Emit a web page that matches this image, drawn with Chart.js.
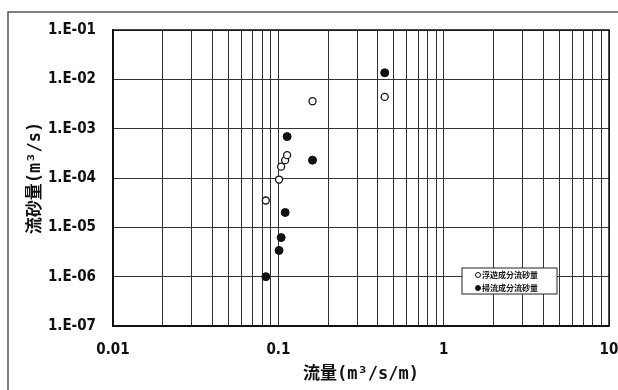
<!DOCTYPE html>
<html>
<head>
<meta charset="utf-8">
<script src="https://cdn.jsdelivr.net/npm/chart.js@4/dist/chart.umd.min.js"></script>
<style>
  body { margin: 0; background: #fff; }
</style>
</head>
<body>
<canvas id="myChart" width="618" height="390"></canvas>
<script>
// flow per unit width (m3/s/m) and the two sediment components (m3/s)
var flowQ = [0.084, 0.101, 0.104, 0.110, 0.113, 0.161, 0.44];
var suspendedQs = [3.5e-5, 9.3e-5, 1.7e-4, 2.3e-4, 2.9e-4, 3.6e-3, 4.4e-3];
var bedloadQs = [1.0e-6, 3.4e-6, 6.2e-6, 2.0e-5, 6.9e-4, 2.3e-4, 1.36e-2];
var seriesNames = ["浮遊成分流砂量", "掃流成分流砂量"];

var xTickValues = [0.01, 0.1, 1, 10];
var xTickLabels = ["0.01", "0.1", "1", "10"];
var yTickValues = [1e-7, 1e-6, 1e-5, 1e-4, 1e-3, 1e-2, 1e-1];
var yTickLabels = ["1.E-07", "1.E-06", "1.E-05", "1.E-04", "1.E-03", "1.E-02", "1.E-01"];

// vertical grid at every 1..9 step of each decade
var xGridValues = [];
xTickValues.forEach(function (d, i) {
  if (i == xTickValues.length - 1) { xGridValues.push(d); return; }
  for (var k = 1; k <= 9; k++) xGridValues.push(d * k);
});

function pts(xs, ys) {
  return xs.map(function (x, i) { return { x: x, y: ys[i] }; });
}
function findLabel(values, labels, v) {
  for (var i = 0; i < values.length; i++) {
    if (Math.abs(values[i] - v) / values[i] < 1e-6) return labels[i];
  }
  return "";
}

var tickFont = { family: '"Liberation Sans Narrow", "DejaVu Sans Condensed", sans-serif', size: 15, weight: "bold" };
var titleFont = { family: '"DejaVu Sans Mono", "Noto Sans CJK JP", monospace', size: 17, weight: "bold" };

// outer frame and plot border
var framePlugin = {
  id: "frame",
  beforeDraw: function (chart) {
    var c = chart.ctx;
    c.save();
    c.fillStyle = "#fff";
    c.fillRect(0, 0, chart.width, chart.height);
    c.strokeStyle = "#555";
    c.lineWidth = 1.5;
    c.beginPath();
    c.moveTo(8, chart.height);
    c.lineTo(8, 12);
    c.lineTo(chart.width, 12);
    c.stroke();
    c.restore();
  },
  afterDatasetsDraw: function (chart) {
    var a = chart.chartArea, c = chart.ctx;
    c.save();
    c.strokeStyle = "#111";
    c.lineWidth = 1.5;
    c.strokeRect(a.left, a.top, a.right - a.left, a.bottom - a.top);
    c.restore();
  }
};

// small boxed legend in the lower right of the plot
var legendBox = {
  id: "legendBox",
  afterDraw: function (chart) {
    var c = chart.ctx;
    var bx = 462, by = 268, bw = 95, bh = 26;
    c.save();
    c.fillStyle = "#fff";
    c.fillRect(bx, by, bw, bh);
    c.strokeStyle = "#222";
    c.lineWidth = 1;
    c.strokeRect(bx, by, bw, bh);
    c.font = 'bold 8px "Noto Sans CJK JP", sans-serif';
    c.textBaseline = "middle";
    chart.data.datasets.forEach(function (ds, i) {
      var y = by + 7 + i * 13;
      c.beginPath();
      c.arc(478, y, 2.5, 0, Math.PI * 2);
      c.fillStyle = ds.backgroundColor;
      c.fill();
      c.strokeStyle = "#111";
      c.lineWidth = 1;
      c.stroke();
      c.fillStyle = "#111";
      c.fillText(ds.label, 482, y);
    });
    c.restore();
  }
};

new Chart("myChart", {
  type: "scatter",
  data: {
    datasets: [{
      label: seriesNames[0],
      data: pts(flowQ, suspendedQs),
      backgroundColor: "#fff",
      borderColor: "#111",
      borderWidth: 1.3,
      pointRadius: 3.5
    }, {
      label: seriesNames[1],
      data: pts(flowQ, bedloadQs),
      backgroundColor: "#111",
      borderColor: "#111",
      borderWidth: 1,
      pointRadius: 4
    }]
  },
  options: {
    responsive: false,
    animation: false,
    layout: { padding: { left: 0, top: 30, right: 9, bottom: 0 } },
    plugins: {
      legend: { display: false },
      tooltip: { enabled: false }
    },
    scales: {
      x: {
        type: "logarithmic",
        min: 0.01,
        max: 10,
        afterBuildTicks: function (scale) {
          scale.ticks = xGridValues.map(function (v) { return { value: v }; });
        },
        afterFit: function (scale) {
          scale.height = 64;
          // label padding should not push the plot edges inward
          scale.paddingLeft = 0;
          scale.paddingRight = 8;
        },
        ticks: {
          autoSkip: false,
          maxRotation: 0,
          padding: 15,
          color: "#111",
          font: tickFont,
          callback: function (v) { return findLabel(xTickValues, xTickLabels, v); }
        },
        grid: { color: "#333", lineWidth: 1, drawTicks: false },
        border: { color: "#111", width: 1.5 },
        title: {
          display: true,
          text: "流量(m³/s/m)",
          color: "#111",
          font: titleFont,
          padding: { top: 0, bottom: 5 }
        }
      },
      y: {
        type: "logarithmic",
        min: 1e-7,
        max: 1e-1,
        afterBuildTicks: function (scale) {
          scale.ticks = yTickValues.map(function (v) { return { value: v }; });
        },
        afterFit: function (scale) { scale.width = 113; },
        ticks: {
          autoSkip: false,
          padding: 17,
          color: "#111",
          font: tickFont,
          callback: function (v) { return findLabel(yTickValues, yTickLabels, v); }
        },
        grid: { color: "#333", lineWidth: 1, drawTicks: false },
        border: { color: "#111", width: 1.5 },
        title: {
          display: true,
          text: "流砂量(m³/s)",
          color: "#111",
          font: titleFont,
          padding: { top: 25, bottom: 0 }
        }
      }
    }
  },
  plugins: [framePlugin, legendBox]
});
</script>
</body>
</html>
